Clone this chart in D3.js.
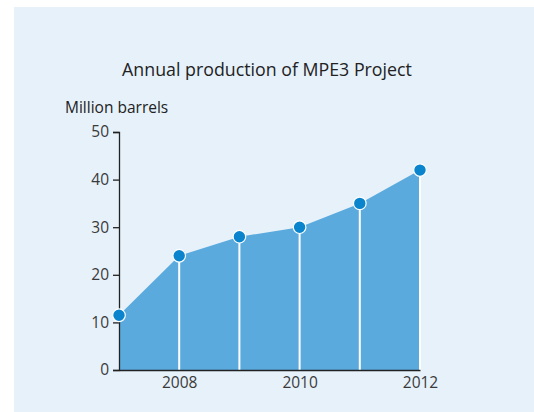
<!DOCTYPE html>
<html lang="en">
  <head>
    <meta charset="utf-8">
    <title>Annual production of MPE3 Project</title>
    <script src="https://cdn.jsdelivr.net/npm/d3@7"></script>
    <style>
      body { margin: 0; background: #fff; }
      svg { display: block; font-family: "Open Sans", "Noto Sans", sans-serif; }
    </style>
  </head>
  <body>
    <div id="chart"></div>
    <script>

// data
var years = [2007, 2008, 2009, 2010, 2011, 2012];
var production = [11.5, 24, 28, 30, 35, 42];
var yTicks = [0, 10, 20, 30, 40, 50];
var xTicks = [2008, 2010, 2012];

var width = 534, height = 412;
var margin = {left: 119, right: 114, top: 132, bottom: 42};

var svg = d3.select("#chart").append("svg")
  .attr("width", width)
  .attr("height", height);

// light blue panel
svg.append("rect")
  .attr("x", 14).attr("y", 7)
  .attr("width", width - 14).attr("height", height - 7)
  .attr("fill", "#e6f1fa");

var x = d3.scaleLinear()
  .domain([2007, 2012])
  .range([margin.left, width - margin.right]);

var y = d3.scaleLinear()
  .domain([0, 50])
  .range([height - margin.bottom, margin.top]);

var pts = years.map(function(d, i) { return {year: d, value: production[i]}; });

var area = d3.area()
  .x(function(d) { return x(d.year); })
  .y0(y(0))
  .y1(function(d) { return y(d.value); });

svg.append("path")
  .datum(pts)
  .attr("d", area)
  .attr("fill", "#5aaade");

// white drop lines
svg.selectAll(".drop")
  .data(pts.slice(1))
  .enter().append("line")
    .attr("x1", function(d) { return x(d.year); })
    .attr("x2", function(d) { return x(d.year); })
    .attr("y1", function(d) { return y(d.value); })
    .attr("y2", y(0))
    .attr("stroke", "#fff")
    .attr("stroke-width", 2);

// axes
var yAxis = svg.append("g")
  .attr("transform", "translate(" + margin.left + ",0)")
  .call(d3.axisLeft(y).tickValues(yTicks).tickSizeOuter(0).tickSize(6).tickPadding(4));
yAxis.select(".domain").attr("stroke", "#222").attr("stroke-width", 1.3);
yAxis.selectAll(".tick line").attr("stroke", "#222").attr("stroke-width", 1.3);

var xAxis = svg.append("g")
  .attr("transform", "translate(0," + y(0) + ")")
  .call(d3.axisBottom(x).tickValues(xTicks).tickFormat(d3.format("d")).tickSize(0).tickPadding(7));
xAxis.select(".domain").attr("stroke", "#222").attr("stroke-width", 1.3);

svg.selectAll(".tick text")
  .attr("font-family", "'Open Sans', 'Noto Sans', sans-serif")
  .attr("font-size", 15.5)
  .attr("fill", "#3a3a3a");

// points
svg.selectAll(".dot")
  .data(pts)
  .enter().append("circle")
    .attr("cx", function(d) { return x(d.year); })
    .attr("cy", function(d) { return y(d.value); })
    .attr("r", 6.3)
    .attr("fill", "#0a84cc")
    .attr("stroke", "#fff")
    .attr("stroke-width", 1.2);

// titles
svg.append("text")
  .attr("x", 267).attr("y", 76)
  .attr("text-anchor", "middle")
  .attr("fill", "#222")
  .style("font-size", "17.8px")
  .text("Annual production of MPE3 Project");

svg.append("text")
  .attr("x", 65).attr("y", 113)
  .attr("fill", "#222")
  .style("font-size", "15.5px")
  .text("Million barrels");

    </script>
  </body>
</html>
